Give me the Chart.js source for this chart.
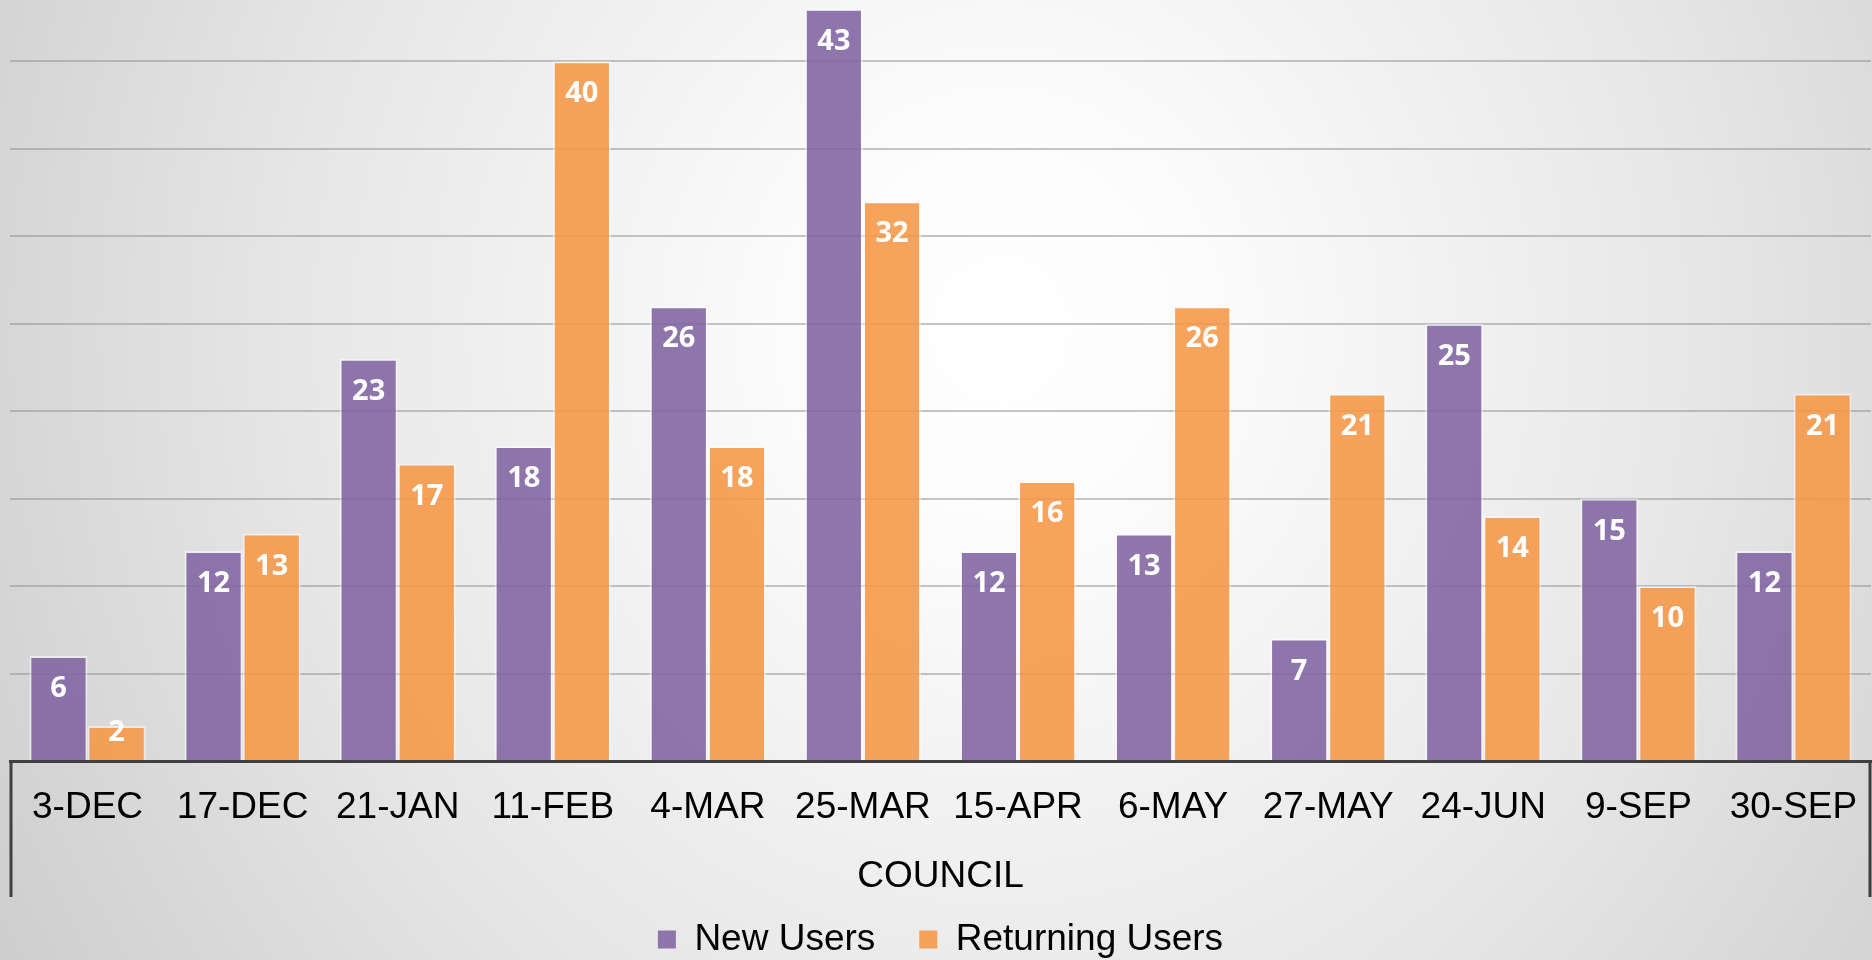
<!DOCTYPE html>
<html>
<head>
<meta charset="utf-8">
<title>Council users</title>
<script src="https://cdn.jsdelivr.net/npm/chart.js@4.4.1/dist/chart.umd.min.js"></script>
<style>
  html, body { margin: 0; padding: 0; overflow: hidden; }
  body {
    width: 1872px;
    height: 960px;
    background: radial-gradient(ellipse 1300px 1400px at 1000px 330px,
      #ffffff 0%, #fcfcfc 15%, #e6e6e6 55%, #cdcdcd 90%, #c6c6c6 100%);
  }
  #wrap { position: relative; width: 1872px; height: 960px; }
</style>
</head>
<body>
<div id="wrap"><canvas id="usersChart"></canvas></div>
<script>
// ——— New vs returning users per council meeting ———
const CATEGORIES = ["3-DEC", "17-DEC", "21-JAN", "11-FEB", "4-MAR", "25-MAR",
  "15-APR", "6-MAY", "27-MAY", "24-JUN", "9-SEP", "30-SEP"];
const NEW_USERS = [6, 12, 23, 18, 26, 43, 12, 13, 7, 25, 15, 12];
const RETURNING_USERS = [2, 13, 17, 40, 18, 32, 16, 26, 21, 14, 10, 21];
const GROUP_LABEL = "COUNCIL";
const Y_MAX = 43.5;
const Y_STEP = 5;

const TEXT_FONT = "'Liberation Sans', Arial, sans-serif";

// white value labels just inside the top of each bar
const barValueLabels = {
  id: "barValueLabels",
  afterDatasetsDraw(chart) {
    const { ctx } = chart;
    ctx.save();
    ctx.font = "bold 29px 'Open Sans', sans-serif";
    ctx.fillStyle = "#ffffff";
    ctx.textAlign = "center";
    ctx.textBaseline = "middle";
    chart.data.datasets.forEach((ds, i) => {
      chart.getDatasetMeta(i).data.forEach((bar, j) => {
        const y = Math.min(bar.y + 33, bar.base - 27);
        ctx.fillText(String(ds.data[j]), bar.x, y);
      });
    });
    ctx.restore();
  }
};

// side borders of the two-level category axis
const groupAxisFrame = {
  id: "groupAxisFrame",
  afterDraw(chart) {
    const { ctx, chartArea } = chart;
    ctx.save();
    ctx.strokeStyle = "#404040";
    ctx.lineWidth = 3;
    ctx.beginPath();
    [chartArea.left + 1, chartArea.right - 1].forEach(x => {
      ctx.moveTo(x, chartArea.bottom);
      ctx.lineTo(x, chartArea.bottom + 136);
    });
    ctx.stroke();
    ctx.restore();
  }
};

document.addEventListener("DOMContentLoaded", () => {
  const ctx = document.getElementById("usersChart").getContext("2d");

  new Chart(ctx, {
    type: "bar",
    data: {
      labels: CATEGORIES,
      datasets: [
        {
          label: "New Users",
          data: NEW_USERS,
          backgroundColor: "rgba(128, 100, 162, 0.88)",
          borderColor: "rgba(255, 255, 255, 0.45)",
          borderWidth: 2
        },
        {
          label: "Returning Users",
          data: RETURNING_USERS,
          backgroundColor: "rgba(247, 150, 70, 0.88)",
          borderColor: "rgba(255, 255, 255, 0.45)",
          borderWidth: 2
        }
      ]
    },
    options: {
      responsive: true,
      maintainAspectRatio: false,
      animation: false,
      devicePixelRatio: 1,
      layout: { padding: { left: 10, right: 1, top: 0, bottom: -8 } },
      datasets: { bar: { categoryPercentage: 0.75, barPercentage: 1.0 } },
      plugins: {
        tooltip: { enabled: false },
        legend: {
          position: "bottom",
          labels: {
            color: "#000000",
            font: { family: TEXT_FONT, size: 37 },
            boxWidth: 18,
            boxHeight: 18,
            padding: 44,
            generateLabels(chart) {
              const items = Chart.defaults.plugins.legend.labels.generateLabels(chart);
              items.forEach(it => { it.lineWidth = 0; });
              return items;
            }
          }
        }
      },
      scales: {
        x: {
          grid: { display: false, drawTicks: false },
          border: { display: true, color: "#404040", width: 3 },
          ticks: {
            color: "#000000",
            font: { family: TEXT_FONT, size: 37 },
            padding: 25,
            maxRotation: 0,
            autoSkip: false
          },
          title: {
            display: true,
            text: GROUP_LABEL,
            color: "#000000",
            font: { family: TEXT_FONT, size: 37 },
            padding: { top: 0, bottom: -22 }
          },
          afterFit(scale) {
            // legend is 91px tall and starts at y=877, so the axis band is 116px
            scale.height = 116;
            scale.paddingLeft = 0;
            scale.paddingRight = 0;
          }
        },
        y: {
          min: 0,
          max: Y_MAX,
          ticks: { display: false, stepSize: Y_STEP },
          border: { display: false },
          grid: {
            drawTicks: false,
            lineWidth: 2,
            color: c => (c.tick && c.tick.value > 0 && c.tick.value % Y_STEP === 0)
              ? "rgba(150, 150, 150, 0.55)" : "rgba(0, 0, 0, 0)"
          }
        }
      }
    },
    plugins: [barValueLabels, groupAxisFrame]
  });
});
</script>
</body>
</html>
